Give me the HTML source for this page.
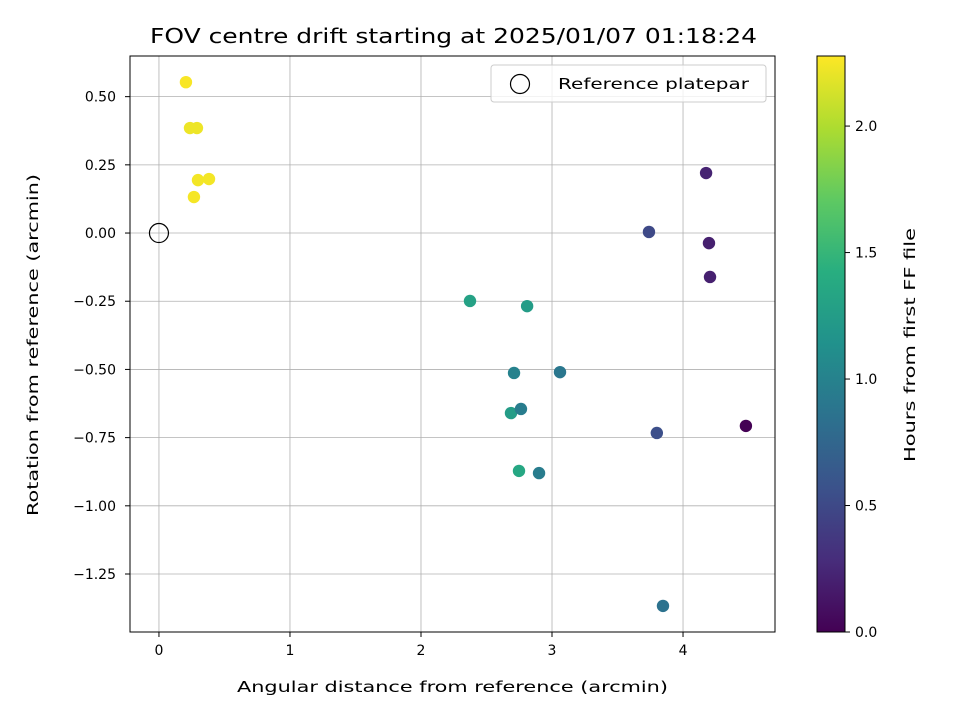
<!DOCTYPE html>
<html><head><meta charset="utf-8"><style>
body{margin:0;background:#fff}
text{font-family:"DejaVu Sans","Liberation Sans",sans-serif;fill:#000}
</style></head><body>
<svg id="chart" width="960" height="720" viewBox="0 0 960 720" xmlns="http://www.w3.org/2000/svg">
<defs>
<linearGradient id="vir" x1="0" y1="1" x2="0" y2="0">
<stop offset="0" stop-color="#440154"/><stop offset="0.125" stop-color="#472d7b"/><stop offset="0.25" stop-color="#3b528b"/><stop offset="0.375" stop-color="#2c728e"/><stop offset="0.5" stop-color="#21918c"/><stop offset="0.625" stop-color="#28ae80"/><stop offset="0.75" stop-color="#5ec962"/><stop offset="0.875" stop-color="#addc30"/><stop offset="1" stop-color="#fde725"/>
</linearGradient>
</defs>
<text x="150" y="43" font-size="20" textLength="607" lengthAdjust="spacingAndGlyphs">FOV centre drift starting at 2025/01/07 01:18:24</text>
<g id="grid"></g>
<g id="points"></g>
<rect x="130" y="56" width="645" height="576" fill="none" stroke="#000" stroke-width="1"/>
<g id="xticks"></g><g id="yticks"></g>
<text x="237" y="692" font-size="15" textLength="431" lengthAdjust="spacingAndGlyphs">Angular distance from reference (arcmin)</text>
<text transform="translate(38,516) rotate(-90)" font-size="15" textLength="342" lengthAdjust="spacingAndGlyphs">Rotation from reference (arcmin)</text>
<g>
<rect x="491" y="65" width="275" height="37" rx="3" fill="#fff" stroke="#ccc" fill-opacity="0.8"/>
<circle cx="520" cy="84" r="9.5" fill="none" stroke="#000" stroke-width="1.2"/>
<text x="558" y="89" font-size="15" textLength="191" lengthAdjust="spacingAndGlyphs">Reference platepar</text>
</g>
<rect x="817" y="56" width="28" height="576" fill="url(#vir)" stroke="#000" stroke-width="1"/>
<g id="cticks"></g>
<text transform="translate(915,462) rotate(-90)" font-size="15" textLength="234" lengthAdjust="spacingAndGlyphs">Hours from first FF file</text>
</svg>
<script>
const xs=[0.206,0.237,0.29,0.298,0.382,0.267,4.176,4.198,4.206,3.74,4.48,3.80,3.847,2.374,2.81,2.71,3.061,2.687,2.763,2.748,2.901];
const ys=[0.553,0.385,0.385,0.194,0.198,0.132,0.22,-0.037,-0.161,0.004,-0.707,-0.733,-1.367,-0.249,-0.268,-0.513,-0.51,-0.66,-0.645,-0.872,-0.880];
const hours=[2.26,2.22,2.22,2.24,2.24,2.25,0.22,0.2,0.2,0.5,0.0,0.55,0.85,1.3,1.25,1.0,0.9,1.25,0.95,1.35,0.95];
const xTicks=[0,1,2,3,4];
const yTicks=[0.5,0.25,0,-0.25,-0.5,-0.75,-1,-1.25];
const cTicks=[0,0.5,1,1.5,2];
const X0=-0.221,X1=4.702,Y0=-1.4626,Y1=0.649,C1=2.277;
const sx=v=>130+(v-X0)/(X1-X0)*645, sy=v=>632-(v-Y0)/(Y1-Y0)*576, sc=v=>632-v/C1*576;
const stops=["#440154","#472d7b","#3b528b","#2c728e","#21918c","#28ae80","#5ec962","#addc30","#fde725"];
function vir(t){t=Math.max(0,Math.min(1,t));const p=t*8,i=Math.min(7,Math.floor(p)),f=p-i;
const a=stops[i],b=stops[i+1];const h=(s,k)=>parseInt(s.substr(1+2*k,2),16);
return "rgb("+[0,1,2].map(k=>Math.round(h(a,k)+(h(b,k)-h(a,k))*f)).join(",")+")";}
const NS="http://www.w3.org/2000/svg";
function mk(t,at,par){const e=document.createElementNS(NS,t);for(const k in at)e.setAttribute(k,at[k]);document.getElementById(par).appendChild(e);return e;}
const fmt2=v=>(v<0?"\u2212":"")+Math.abs(v).toFixed(2);
xTicks.forEach(v=>{const x=sx(v);
const g=mk("line",{x1:x,x2:x,y1:56,y2:632,stroke:"#b0b0b0","stroke-width":0.8},"grid");


mk("line",{x1:x,x2:x,y1:632,y2:637,stroke:"#000"},"xticks");
const t=mk("text",{x:x,y:655,"font-size":14,"text-anchor":"middle"},"xticks");t.textContent=v;

});
yTicks.forEach(v=>{const y=sy(v);
const g=mk("line",{x1:130,x2:775,y1:y,y2:y,stroke:"#b0b0b0","stroke-width":0.8},"grid");


mk("line",{x1:125,x2:130,y1:y,y2:y,stroke:"#000"},"yticks");
const t=mk("text",{x:116,y:y+5,"font-size":14,"text-anchor":"end"},"yticks");t.textContent=fmt2(v);

});
cTicks.forEach(v=>{const y=sc(v);
mk("line",{x1:845,x2:850,y1:y,y2:y,stroke:"#000"},"cticks");
const t=mk("text",{x:855,y:y+5,"font-size":14},"cticks");t.textContent=v.toFixed(1);

});
const ref=mk("circle",{cx:sx(0),cy:sy(0),r:9.5,fill:"none",stroke:"#000","stroke-width":1.2},"points");


xs.forEach((v,i)=>{const c=mk("circle",{cx:sx(v),cy:sy(ys[i]),r:6.2,fill:vir(hours[i]/C1)},"points");

});
</script>
</body></html>
